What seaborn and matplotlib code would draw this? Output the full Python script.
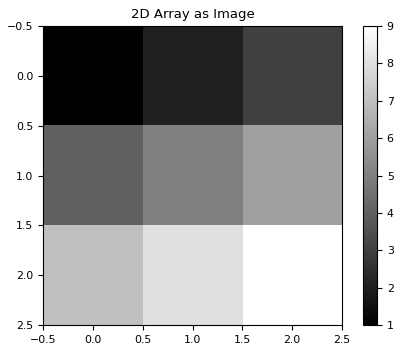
import numpy as np
import matplotlib
matplotlib.use("Agg")
import matplotlib.pyplot as plt
import seaborn as sns

row0 = [1, 2, 3]
row1 = [4, 5, 6]
row2 = [7, 8, 9]
data = np.array([row0, row1, row2])

sns.reset_orig()
plt.rcParams['font.family'] = ['DejaVu Sans']

fig = plt.figure(figsize=(4.0, 3.52), dpi=100)
ax = fig.add_axes([43/400, 27/352, 299/400, 299/352])
cax = fig.add_axes([363/400, 27/352, 14/400, 299/352])
im = ax.imshow(data, cmap="gray", aspect="auto")
ax.set_title("2D Array as Image", fontsize=9.5)
cb = fig.colorbar(im, cax=cax)
ax.tick_params(labelsize=7.9)
cb.ax.tick_params(labelsize=7.9)
fig.savefig("out.png", dpi=100)
